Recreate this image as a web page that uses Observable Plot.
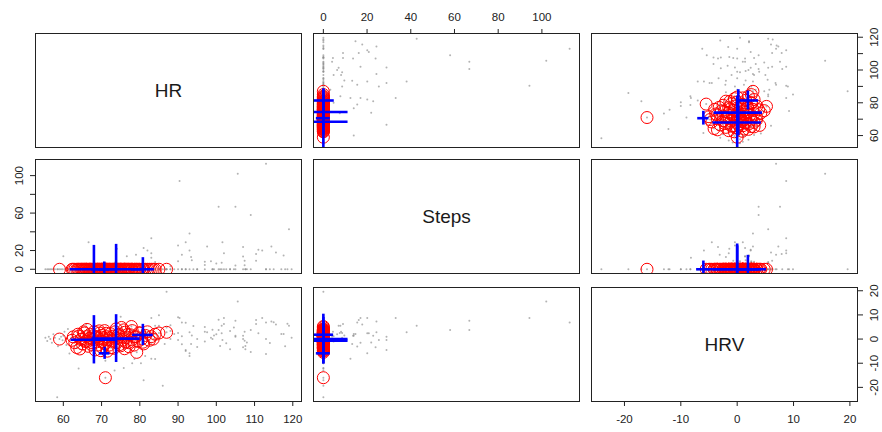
<!DOCTYPE html>
<html><head><meta charset="utf-8">
<script src="https://cdn.jsdelivr.net/npm/d3@7"></script>
<script src="https://cdn.jsdelivr.net/npm/@observablehq/plot@0.6"></script>
<style>
body{margin:0;background:#fff;}
#chart{position:relative;width:882px;height:432px;overflow:hidden;background:#fff;font-family:"Liberation Sans",Arial,sans-serif;}
#chart svg{position:absolute;}
</style></head><body><div id="chart"></div>
<script>
// ---- variables and ticks ----
const vars = ["HR", "Steps", "HRV"];
const hrTicks = [60, 70, 80, 90, 100, 110, 120];
const hrSideLabels = [60, 80, 100, 120];
const stepsTicks = [0, 20, 40, 60, 80, 100];
const stepsSideLabels = [0, 20, 60, 100];
const hrvTicks = [-20, -10, 0, 10, 20];

// ---- observations with steps > 0 ----
const activeHR    = [117.6,115.6,112,111,114.4,110.4,110.4,107.4,107,107,107.4,105,102,101.6,101.4,100,98.6,97,97,97.6,93.6,93.4,93,92,93,90,90,91,88,83,84,83,83,82,81,79,76.6,80,74,73.6,66.6,60,119,109,105,100.6,90.4,105.6,113];
const activeSteps = [14.7,17.8,20.1,20.8,24.3,16.2,9,9,13.6,23.9,4.4,4,17,28.9,7,6.3,8.6,4.7,8.1,24.3,9.6,13.2,20.1,28.9,38.1,25.4,8.6,15.5,3.2,33.1,7.8,12.4,17,20.1,22.8,15.5,13.9,4.7,21.9,7.5,28.9,13.9,42.7,58,66.8,66.8,94.3,102,112.7];
const activeHRV   = [2.1,6,8.7,2.4,7.3,7.9,6.2,-0.7,1.4,-3.4,3,1,8.7,-0.4,5.5,2,0.5,-1,3,2.8,1.5,-2,-5.9,-4.5,2.8,-0.4,2.5,6.9,0,8.7,5.5,-8.2,-1.5,2.4,1.4,-3.1,2.1,1.2,-1.4,2.5,1,1.4,5.5,3.8,7.6,3.8,8.7,15.6,6.9];

// ---- observations with zero steps (grey only) ----
const restHR  = [55.3,55.8,56.2,56.6,57,57.4,57.8,58.4,58.6,59.4,59.8,60.3,60.8,61.2,61.6,62,
  63,64,65,66,67,69,70,71,72,73.4,74,75,75.8,76,78,78.6,80,80.3,81,81.4,82,84,84,85,85,86,86.5,87,87,
  88,88,89,90,91,91,92,92,93,94,95,95,97,99,99.4,99,100.6,101,101.4,102,102.6,103.6,103.6,104.6,105,107,107.6,107.6,108,109,113,113,114,115,117,118,118.6,119.7];
const restHRV = [0.5,-0.8,1,0,-1.5,2,0.5,-24.1,-3,1,-0.5,3,-2.5,4.2,-6,0.3,
  0,-12.2,1,6,-1,0.5,2,-9,-1,-13,1,9.2,-12,0,-10,-8.3,-1,-10,-17,-7,1,-8.3,-0.5,9.9,5.5,-19.3,-2,19.6,4.8,
  3.3,5.7,2.1,9,-2.1,1.2,-4.9,6.8,-7,5.4,-3.3,0,5,0,1.5,3.9,8,-2.9,2.4,6.2,-1.7,-4.2,3.3,4.8,1.4,0,-4.2,-2.9,-1.4,-5.4,-6.2,0,-1.6,7,2.1,-3,6.3,0.5];

// ---- flagged observations (zero steps, red circles) ----
const flaggedHR  = [59,62.3,62.6,63,63.5,63.8,64,64.3,64.6,64.8,65,65.3,65.5,65.7,66,66,66.2,66.5,66.8,67,
  67,67.3,67.5,67.8,68,68,68.3,68.5,68.8,68.9,69,69.2,69.4,69.5,69.8,70,70,70.2,70.4,70.5,
  70.8,70.9,71,71,71.2,71.3,71.5,71.7,72,72,72.3,72.5,72.8,73,73.2,73.4,73.5,73.8,74,74,
  74.3,74.5,74.7,75,75,75.2,75.5,75.8,76,76,76.3,76.5,76.8,77,77.2,77.5,77.8,78,78,78.5,
  78.7,79,79.2,79.5,79.8,80,80.5,80.8,81,81.5,82,82.5,83,83.5,84,85,87];
const flaggedHRV = [0,-0.5,0.9,-1.5,-3.5,2,1.2,-4.1,-0.2,0,-2,3,2.5,-1,-0.8,1,4,-3,0.2,0.5,
  2,-2.2,-1.5,1.4,-0.2,3,-4.5,0.8,1,-1.1,-2.5,0.2,3.4,2.5,-4.8,-1,1.5,-3.5,0.6,0,
  3.5,-2,-16,-1.8,2.4,1,-5,-0.4,0.5,-2.5,2.2,-3.6,-0.8,1.2,-3.8,0,3,4.2,-1.5,0.3,
  1.6,2,-2.3,-2.8,1,4.8,-0.5,3.8,2.8,-4,-1.2,0.5,1.9,-1.5,-3.2,1.8,5.2,-0.3,3.5,-2.5,
  0.9,1,-5.5,-1,2.6,2.5,0,-1.3,-2,1.5,3,-0.5,1,0,2,2.5,2.8];

// ---- cluster crosses per panel: [centre x, centre y, half-width in x, half-height in y] ----
const crossStepsHR  = [[0,81.4,5,7],[0,74.4,11.3,14],[0,70.6,3.2,5],[0,68.4,11.3,16]];
const crossHRVHR    = [[0,68,4.3,16],[0.2,74,4.3,14],[1.9,81.4,1.9,5.8],[-6,70.6,1,4.2]];
const crossHRSteps  = [[68,0,6.2,25.5],[73.8,0,6.4,26.6],[80.8,0,3,12.4],[70.7,0,1.4,7.8]];
const crossHRVSteps = [[0,0,5.2,27],[0,0,4.3,25],[1.9,0,1.9,14.9],[-6,0,1.2,8.8]];
const crossHRHRV    = [[68,-0.3,6,10],[73.8,0.2,6.3,9.9],[80.8,1.7,2.7,4.4],[70.8,-5.9,1.4,2.5]];
const crossStepsHRV = [[0,1.8,4.7,5],[0,0,11.3,10.3],[0,-0.7,11.3,9.6],[0,-5.9,3.2,2.5]];
const crosses = {
  "Steps|HR": crossStepsHR, "HRV|HR": crossHRVHR, "HR|Steps": crossHRSteps,
  "HRV|Steps": crossHRVSteps, "HR|HRV": crossHRHRV, "Steps|HRV": crossStepsHRV
};

// ---- build table ----
const obs = [];
activeHR.forEach((h, i) => obs.push({HR: h, Steps: activeSteps[i], HRV: activeHRV[i], flag: false}));
restHR.forEach((h, i) => obs.push({HR: h, Steps: 0, HRV: restHRV[i], flag: false}));
flaggedHR.forEach((h, i) => obs.push({HR: h, Steps: 0, HRV: flaggedHRV[i], flag: true}));
const flagged = obs.filter(d => d.flag);

function padded(v) { const [a, b] = d3.extent(obs, d => d[v]); const p = (b - a) * 0.04; return [a - p, b + p]; }
const dom = {HR: padded("HR"), Steps: padded("Steps"), HRV: padded("HRV")};
const ticks = {HR: hrTicks, Steps: stepsTicks, HRV: hrvTicks};
const sideLabels = {HR: hrSideLabels, Steps: stepsSideLabels, HRV: hrvTicks};

// ---- layout ----
const lefts = [35, 313, 591], tops = [33, 159, 287], W = 266, H = 114, M = 30;
const ink = "#222", fs = 11.5;
const chart = document.getElementById("chart");

for (let r = 0; r < 3; r++) for (let c = 0; c < 3; c++) {
  const yv = vars[r], xv = vars[c];
  const marks = [];
  if (r === c) {
    marks.push(Plot.text([vars[r]], {frameAnchor: "middle", text: d => d, fontSize: 19, fill: "#1a1a1a"}));
  } else {
    marks.push(Plot.dot(obs, {x: xv, y: yv, r: 1, fill: "#8a8a8a", fillOpacity: 0.65, clip: true}));
    marks.push(Plot.dot(flagged, {x: xv, y: yv, r: 6, stroke: "#ff0000", strokeWidth: 1, fill: "none", clip: true}));
    const cr = crosses[xv + "|" + yv].map(([cx, cy, dx, dy]) => ({cx, cy, dx, dy}));
    marks.push(Plot.ruleY(cr, {y: "cy", x1: d => d.cx - d.dx, x2: d => d.cx + d.dx, stroke: "#0000ff", strokeWidth: 2.6, clip: true}));
    marks.push(Plot.ruleX(cr, {x: "cx", y1: d => d.cy - d.dy, y2: d => d.cy + d.dy, stroke: "#0000ff", strokeWidth: 2.6, clip: true}));
  }
  // axes, alternating as in a pairs plot
  if (r === 0 && c === 1) marks.push(Plot.axisX({anchor: "top", ticks: ticks[xv], tickFormat: d => String(d), tickSize: 5, tickPadding: 8, fontSize: fs, color: ink, label: null}));
  if (r === 2 && c !== 1) marks.push(Plot.axisX({anchor: "bottom", ticks: ticks[xv], tickFormat: d => String(d), tickSize: 5, tickPadding: 8, fontSize: fs, color: ink, label: null}));
  if (c === 0 && r === 1) marks.push(Plot.axisY({anchor: "left", ticks: ticks[yv], tickFormat: d => sideLabels[yv].includes(d) ? String(d) : "", tickSize: 5, tickPadding: 8, tickRotate: -90, textAnchor: "middle", lineAnchor: "bottom", fontSize: fs, color: ink, label: null}));
  if (c === 2 && r !== 1) marks.push(Plot.axisY({anchor: "right", ticks: ticks[yv], tickFormat: d => sideLabels[yv].includes(d) ? String(d) : "", tickSize: 5, tickPadding: 7, tickRotate: -90, textAnchor: "middle", lineAnchor: "top", fontSize: fs, color: ink, label: null}));
  marks.push(Plot.frame({stroke: ink, strokeWidth: 1}));

  const svg = Plot.plot({
    width: W + 2 * M, height: H + 2 * M, margin: M,
    x: {domain: dom[xv], axis: null}, y: {domain: dom[yv], axis: null},
    style: {background: "transparent", overflow: "visible", fontFamily: "Liberation Sans, Arial, sans-serif"},
    marks
  });
  svg.style.left = (lefts[c] - M) + "px";
  svg.style.top = (tops[r] - M) + "px";
  chart.appendChild(svg);
}
</script></body></html>
